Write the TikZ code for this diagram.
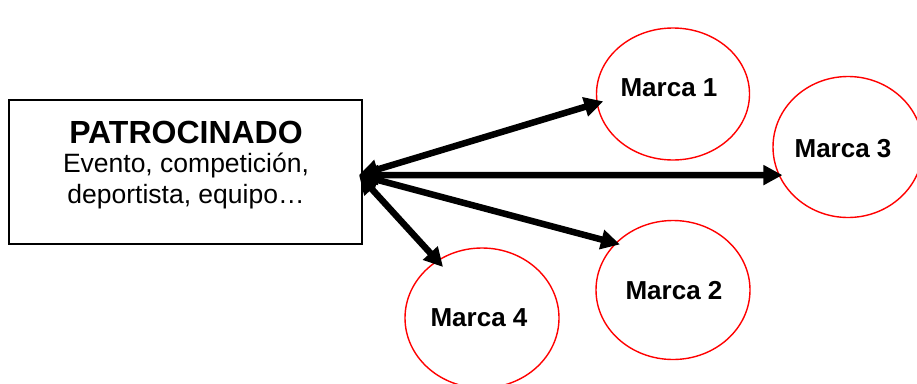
\documentclass[tikz,border=0pt]{standalone}
\usepackage{fontspec}
\setmainfont{Liberation Sans}
\usetikzlibrary{shapes.geometric,arrows.meta}
\begin{document}
\begin{tikzpicture}[x=1pt,y=-1pt,
  marca/.style={ellipse,draw=red,line width=1.4pt,inner sep=0pt},
  marcatext/.style={anchor=base,font=\fontsize{26}{31}\selectfont\bfseries,inner sep=0pt},
  bodytext/.style={anchor=base,font=\fontsize{26.5}{31}\selectfont,inner sep=0pt},
  link/.style={line width=6.5pt,{Triangle[length=19pt,width=19pt]}-{Triangle[length=19pt,width=19pt]}}]
  \useasboundingbox (0,0) rectangle (917,383);
  % sponsored entity box
  \node[draw,line width=1.2pt,minimum width=353pt,minimum height=144pt,inner sep=0pt] (pat) at (185.5,172) {};
  \node[anchor=base,font=\fontsize{32}{38}\selectfont\bfseries,inner sep=0pt] (title) at (186,143) {PATROCINADO};
  \node[bodytext] (l1) at (186,172) {Evento, competición,};
  \node[bodytext] (l2) at (186,203) {deportista, equipo…};
  % brands
  \node[marca,minimum width=153pt,minimum height=132pt] (m1) at (673,94) {};
  \node[marca,minimum width=150pt,minimum height=141pt] (m3) at (848,147) {};
  \node[marca,minimum width=154pt,minimum height=139pt] (m2) at (673,290) {};
  \node[marca,minimum width=154pt,minimum height=140pt] (m4) at (482,318) {};
  \node[marcatext] (t1) at (669,96.7) {Marca 1};
  \node[marcatext] (t3) at (843,157.7) {Marca 3};
  \node[marcatext] (t2) at (674,299) {Marca 2};
  \node[marcatext] (t4) at (479,326) {Marca 4};
  % connectors
  \coordinate (hub) at (359,175);
  \draw[link,shorten >=-7pt] (hub) -- (m1.187.5);
  \draw[link,shorten >=-4pt] (hub) -- (m3.202);
  \draw[link,shorten >=-5pt] (hub) -- (m2.141.3);
  \draw[link,shorten >=-9pt] (hub) -- (m4.128.4);
\end{tikzpicture}
\end{document}
